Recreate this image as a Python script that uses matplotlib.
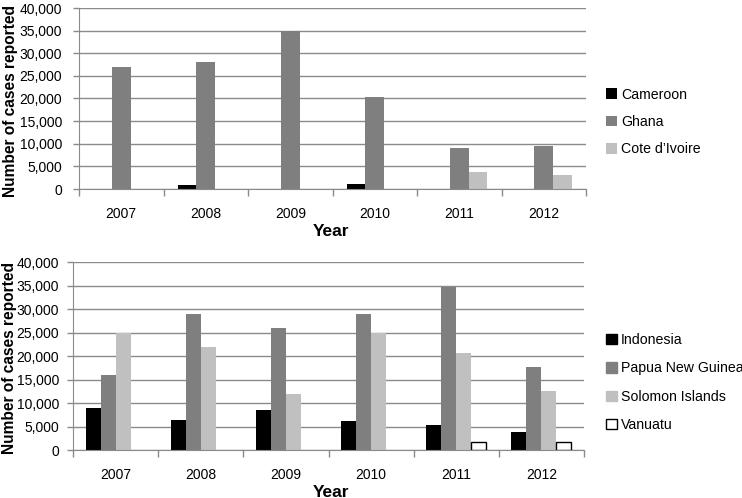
import matplotlib
matplotlib.use("Agg")
import matplotlib.pyplot as plt
import numpy as np

plt.rcParams['font.family'] = ['Liberation Sans', 'DejaVu Sans']

years = ["2007", "2008", "2009", "2010", "2011", "2012"]

# Top panel (Africa)
cameroon = [0, 800, 0, 1000, 0, 0]
ghana = [27000, 28000, 35000, 20400, 9000, 9500]
cote_divoire = [0, 0, 0, 0, 3700, 3200]

# Bottom panel (Asia-Pacific)
indonesia = [8900, 6300, 8500, 6200, 5400, 3800]
papua_new_guinea = [16000, 29000, 26000, 29000, 34600, 17600]
solomon_islands = [25000, 22000, 12000, 25000, 20700, 12500]
vanuatu = [0, 0, 0, 0, 1800, 1800]

yticks = [0, 5000, 10000, 15000, 20000, 25000, 30000, 35000, 40000]

W, H = 742, 498
fig = plt.figure(figsize=(W / 100, H / 100), dpi=100)
GRID = '#8a8a8a'
TICKFS = 10


def px_axes(x0, y0, x1, y1):
    return fig.add_axes([x0 / W, 1 - y1 / H, (x1 - x0) / W, (y1 - y0) / H])


def style(ax, n, ylab_x, ylab_y, xlab_y, ypad):
    ax.set_xlim(0, n)
    ax.set_ylim(0, 40000)
    ax.set_yticks(yticks)
    ax.set_yticklabels([f"{v:,}" for v in yticks], fontsize=TICKFS)
    ax.tick_params(axis='y', length=4, color=GRID, width=1, pad=ypad)
    ax.yaxis.grid(True, color=GRID, linewidth=1.0)
    ax.set_axisbelow(True)
    for s in ['top', 'right']:
        ax.spines[s].set_visible(False)
    ax.spines['left'].set_color(GRID)
    ax.spines['bottom'].set_color(GRID)
    ax.set_xticks(np.arange(0, n + 1))
    ax.set_xticklabels([])
    ax.tick_params(axis='x', which='major', length=5, color=GRID, width=1, direction='out')
    ax.set_xticks(np.arange(n) + 0.5, minor=True)
    ax.set_xticklabels(years, minor=True, fontsize=TICKFS)
    ax.tick_params(axis='x', which='minor', length=0, pad=13)
    ax.set_ylabel("Number of cases reported", fontsize=11.2, fontweight='bold')
    ax.yaxis.set_label_coords(ylab_x / W, 1 - ylab_y / H, transform=fig.transFigure)
    ax.set_xlabel("Year", fontsize=12.5, fontweight='bold')
    ax.xaxis.set_label_coords(331 / W, 1 - xlab_y / H, transform=fig.transFigure)
    ax.xaxis.label.set_va('center')
    ax.yaxis.label.set_va('center')


n = len(years)
x = np.arange(n) + 0.5

# Top axes
ax1 = px_axes(79, 8, 586, 189)
style(ax1, n, 11, 101, 231, 8)
w1 = 0.222
series1 = [("Cameroon", cameroon, '#000000'),
           ("Ghana", ghana, '#7f7f7f'),
           ("Cote d\u2019Ivoire", cote_divoire, '#c0c0c0')]
for i, (name, vals, col) in enumerate(series1):
    ax1.bar(x + (i - 1) * w1, vals, width=w1, color=col, label=name, linewidth=0)
ax1.legend(loc='center left', bbox_to_anchor=(606 / W, 1 - 122 / H),
           bbox_transform=fig.transFigure, frameon=False, fontsize=10.2,
           handlelength=0.75, handleheight=0.75, handletextpad=0.3,
           labelspacing=0.95, borderaxespad=0, borderpad=0)

# Bottom axes
ax2 = px_axes(73, 262, 584, 450)
style(ax2, n, 9.5, 358, 492, 6)
w2 = 0.176
series2 = [("Indonesia", indonesia, '#000000', '#000000'),
           ("Papua New Guinea", papua_new_guinea, '#7f7f7f', '#7f7f7f'),
           ("Solomon Islands", solomon_islands, '#c0c0c0', '#c0c0c0'),
           ("Vanuatu", vanuatu, '#ffffff', '#000000')]
for i, (name, vals, col, ec) in enumerate(series2):
    if name == "Vanuatu":
        lws = [1.0 if v > 0 else 0 for v in vals]
    else:
        lws = 0
    ax2.bar(x + (i - 1.5) * w2, vals, width=w2, color=col, edgecolor=ec,
            linewidth=lws, label=name)
leg = ax2.legend(loc='center left', bbox_to_anchor=(606 / W, 1 - 382.5 / H),
                 bbox_transform=fig.transFigure, frameon=False, fontsize=10.2,
                 handlelength=0.75, handleheight=0.75, handletextpad=0.3,
                 labelspacing=1.02, borderaxespad=0, borderpad=0)
for h in leg.legend_handles:
    h.set_linewidth(1.0)

fig.savefig("out.png", dpi=100)
